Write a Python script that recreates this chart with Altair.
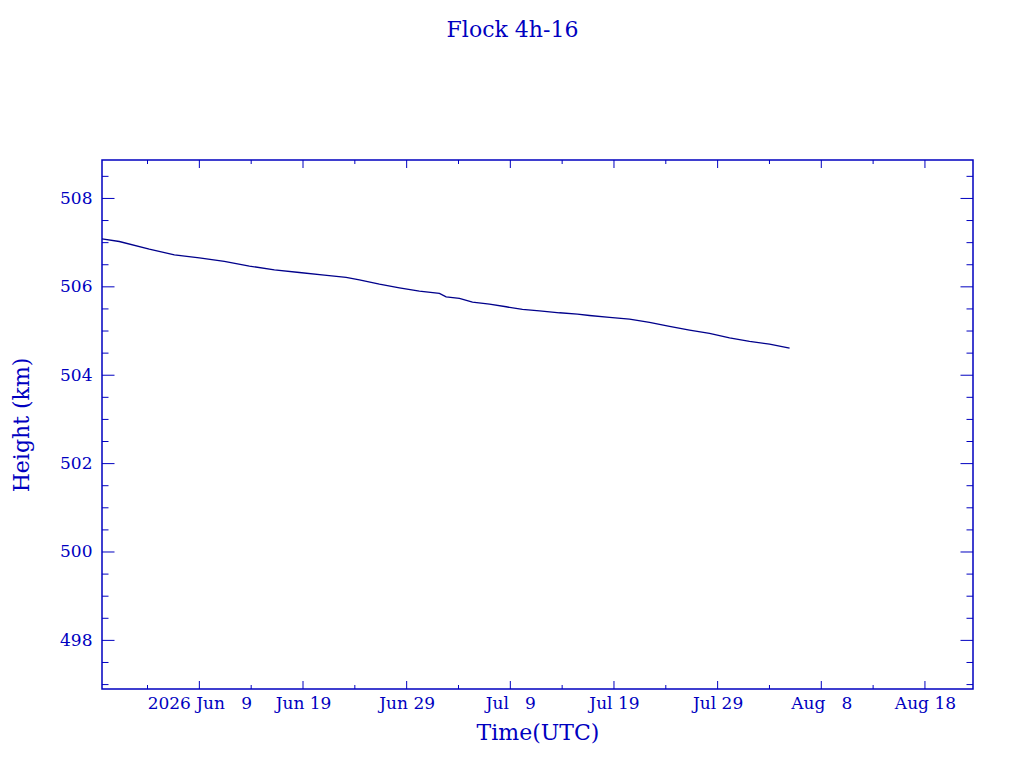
import altair as alt
import pandas as pd

# ---- data ----
times = [
    "2026-05-30T14:37:00Z", "2026-06-01T06:43:00Z", "2026-06-04T04:05:00Z", "2026-06-06T14:10:00Z",
    "2026-06-09T00:00:00Z", "2026-06-11T09:50:00Z", "2026-06-13T19:55:00Z", "2026-06-16T05:45:00Z",
    "2026-06-18T15:35:00Z", "2026-06-21T01:25:00Z", "2026-06-23T03:50:00Z", "2026-06-24T10:35:00Z",
    "2026-06-26T08:55:00Z", "2026-06-28T07:10:00Z", "2026-06-30T05:30:00Z", "2026-07-02T03:50:00Z",
    "2026-07-02T19:25:00Z", "2026-07-04T02:10:00Z", "2026-07-05T08:25:00Z", "2026-07-06T23:45:00Z",
    "2026-07-08T14:25:00Z", "2026-07-10T04:05:00Z", "2026-07-11T19:40:00Z", "2026-07-13T18:00:00Z",
    "2026-07-15T11:30:00Z", "2026-07-16T15:20:00Z", "2026-07-18T13:40:00Z", "2026-07-20T12:00:00Z",
    "2026-07-22T10:20:00Z", "2026-07-24T08:40:00Z", "2026-07-26T07:00:00Z", "2026-07-28T05:15:00Z",
    "2026-07-30T03:35:00Z", "2026-08-01T01:55:00Z", "2026-08-03T00:15:00Z", "2026-08-04T22:35:00Z",
]
heights = [
    507.086, 507.027, 506.853, 506.724,
    506.656, 506.575, 506.468, 506.385,
    506.326, 506.265, 506.213, 506.158,
    506.061, 505.977, 505.903, 505.851,
    505.774, 505.738, 505.654, 505.609,
    505.548, 505.489, 505.457, 505.412,
    505.382, 505.353, 505.308, 505.269,
    505.195, 505.104, 505.020, 504.946,
    504.846, 504.765, 504.704, 504.613,
]

x_domain = ["2026-05-30T14:37:00Z", "2026-08-22T15:16:00Z"]
y_domain = [496.9, 508.87]

x_major = ["2026-06-09T00:00:00Z", "2026-06-19T00:00:00Z", "2026-06-29T00:00:00Z", "2026-07-09T00:00:00Z",
           "2026-07-19T00:00:00Z", "2026-07-29T00:00:00Z", "2026-08-08T00:00:00Z", "2026-08-18T00:00:00Z"]
x_minor = ["2026-06-04T00:00:00Z", "2026-06-14T00:00:00Z", "2026-06-24T00:00:00Z", "2026-07-04T00:00:00Z",
           "2026-07-14T00:00:00Z", "2026-07-24T00:00:00Z", "2026-08-03T00:00:00Z", "2026-08-13T00:00:00Z"]
y_major = [498, 500, 502, 504, 506, 508]
y_minor = [497, 497.5, 498.5, 499, 499.5, 500.5, 501, 501.5, 502.5, 503, 503.5,
           504.5, 505, 505.5, 506.5, 507, 507.5, 508.5]

BLUE = "#0000c0"
LINE = "#00008b"
FONT = "DejaVu Serif"
W, H = 871, 529

df = pd.DataFrame({"t": times, "h": heights})
xmaj = pd.DataFrame({"t": x_major})
xmin = pd.DataFrame({"t": x_minor})
ymaj = pd.DataFrame({"h": y_major})
ymin = pd.DataFrame({"h": y_minor})

xscale = alt.Scale(type="utc", domain=x_domain, nice=False)
yscale = alt.Scale(domain=y_domain, nice=False, zero=False)

label_expr = (
    "(utcmonth(datum.value) == 5 && utcdate(datum.value) == 9 ? '2026 ' : '') + "
    "utcFormat(datum.value, '%b') + ' ' + "
    "(utcdate(datum.value) < 10 ? '\u2007' : '') + utcdate(datum.value)"
)

xaxis = alt.Axis(values=x_major, labelExpr=label_expr, tickSize=0, domain=False, grid=False,
                 labelFont=FONT, labelFontSize=17, labelColor=BLUE, labelPadding=6,
                 labelFlush=False, labelOverlap=False,
                 title="Time(UTC)", titleFont=FONT, titleFontSize=22, titleFontWeight="normal",
                 titleColor=BLUE, titleX=W / 2, titleY=50, titleBaseline="alphabetic",
                 titleAlign="center")
yaxis = alt.Axis(values=y_major, format="d", tickSize=0, domain=False, grid=False,
                 labelFont=FONT, labelFontSize=17, labelColor=BLUE, labelPadding=10,
                 labelFlush=False, labelOverlap=False,
                 title="Height (km)", titleFont=FONT, titleFontSize=22, titleFontWeight="normal",
                 titleColor=BLUE, titleX=-74, titleY=H / 2, titleBaseline="alphabetic",
                 titleAlign="center", titleAngle=270)

X = alt.X("t:T", scale=xscale, axis=xaxis, title="Time(UTC)")
Y = alt.Y("h:Q", scale=yscale, axis=yaxis, title="Height (km)")

line = alt.Chart(df).mark_line(color=LINE, strokeWidth=1.4).encode(x=X, y=Y)


def xticks(data, length, bottom=True):
    if bottom:
        y1, y2 = alt.value(H), alt.value(H - length)
    else:
        y1, y2 = alt.value(0), alt.value(length)
    return alt.Chart(data).mark_rule(color=BLUE, strokeWidth=1).encode(x=X, y=y1, y2=y2)


def yticks(data, length, left=True):
    if left:
        x1, x2 = alt.value(0), alt.value(length)
    else:
        x1, x2 = alt.value(W), alt.value(W - length)
    return alt.Chart(data).mark_rule(color=BLUE, strokeWidth=1).encode(y=Y, x=x1, x2=x2)


chart = alt.layer(
    line,
    xticks(xmaj, 8, True), xticks(xmaj, 8, False),
    xticks(xmin, 4, True), xticks(xmin, 4, False),
    yticks(ymaj, 12.5, True), yticks(ymaj, 12.5, False),
    yticks(ymin, 6.5, True), yticks(ymin, 6.5, False),
).properties(
    width=W, height=H,
    autosize="none",
    padding={"left": 94, "top": 152, "right": 43, "bottom": 70},
    title=alt.TitleParams("Flock 4h-16", font=FONT, fontSize=22, fontWeight="normal", color=BLUE,
                          anchor="middle", baseline="alphabetic", offset=101, dx=-25),
).configure(background="white").configure_view(stroke=BLUE, strokeWidth=1.5)

chart.save("out.html", embed_options={"renderer": "svg", "actions": False})
